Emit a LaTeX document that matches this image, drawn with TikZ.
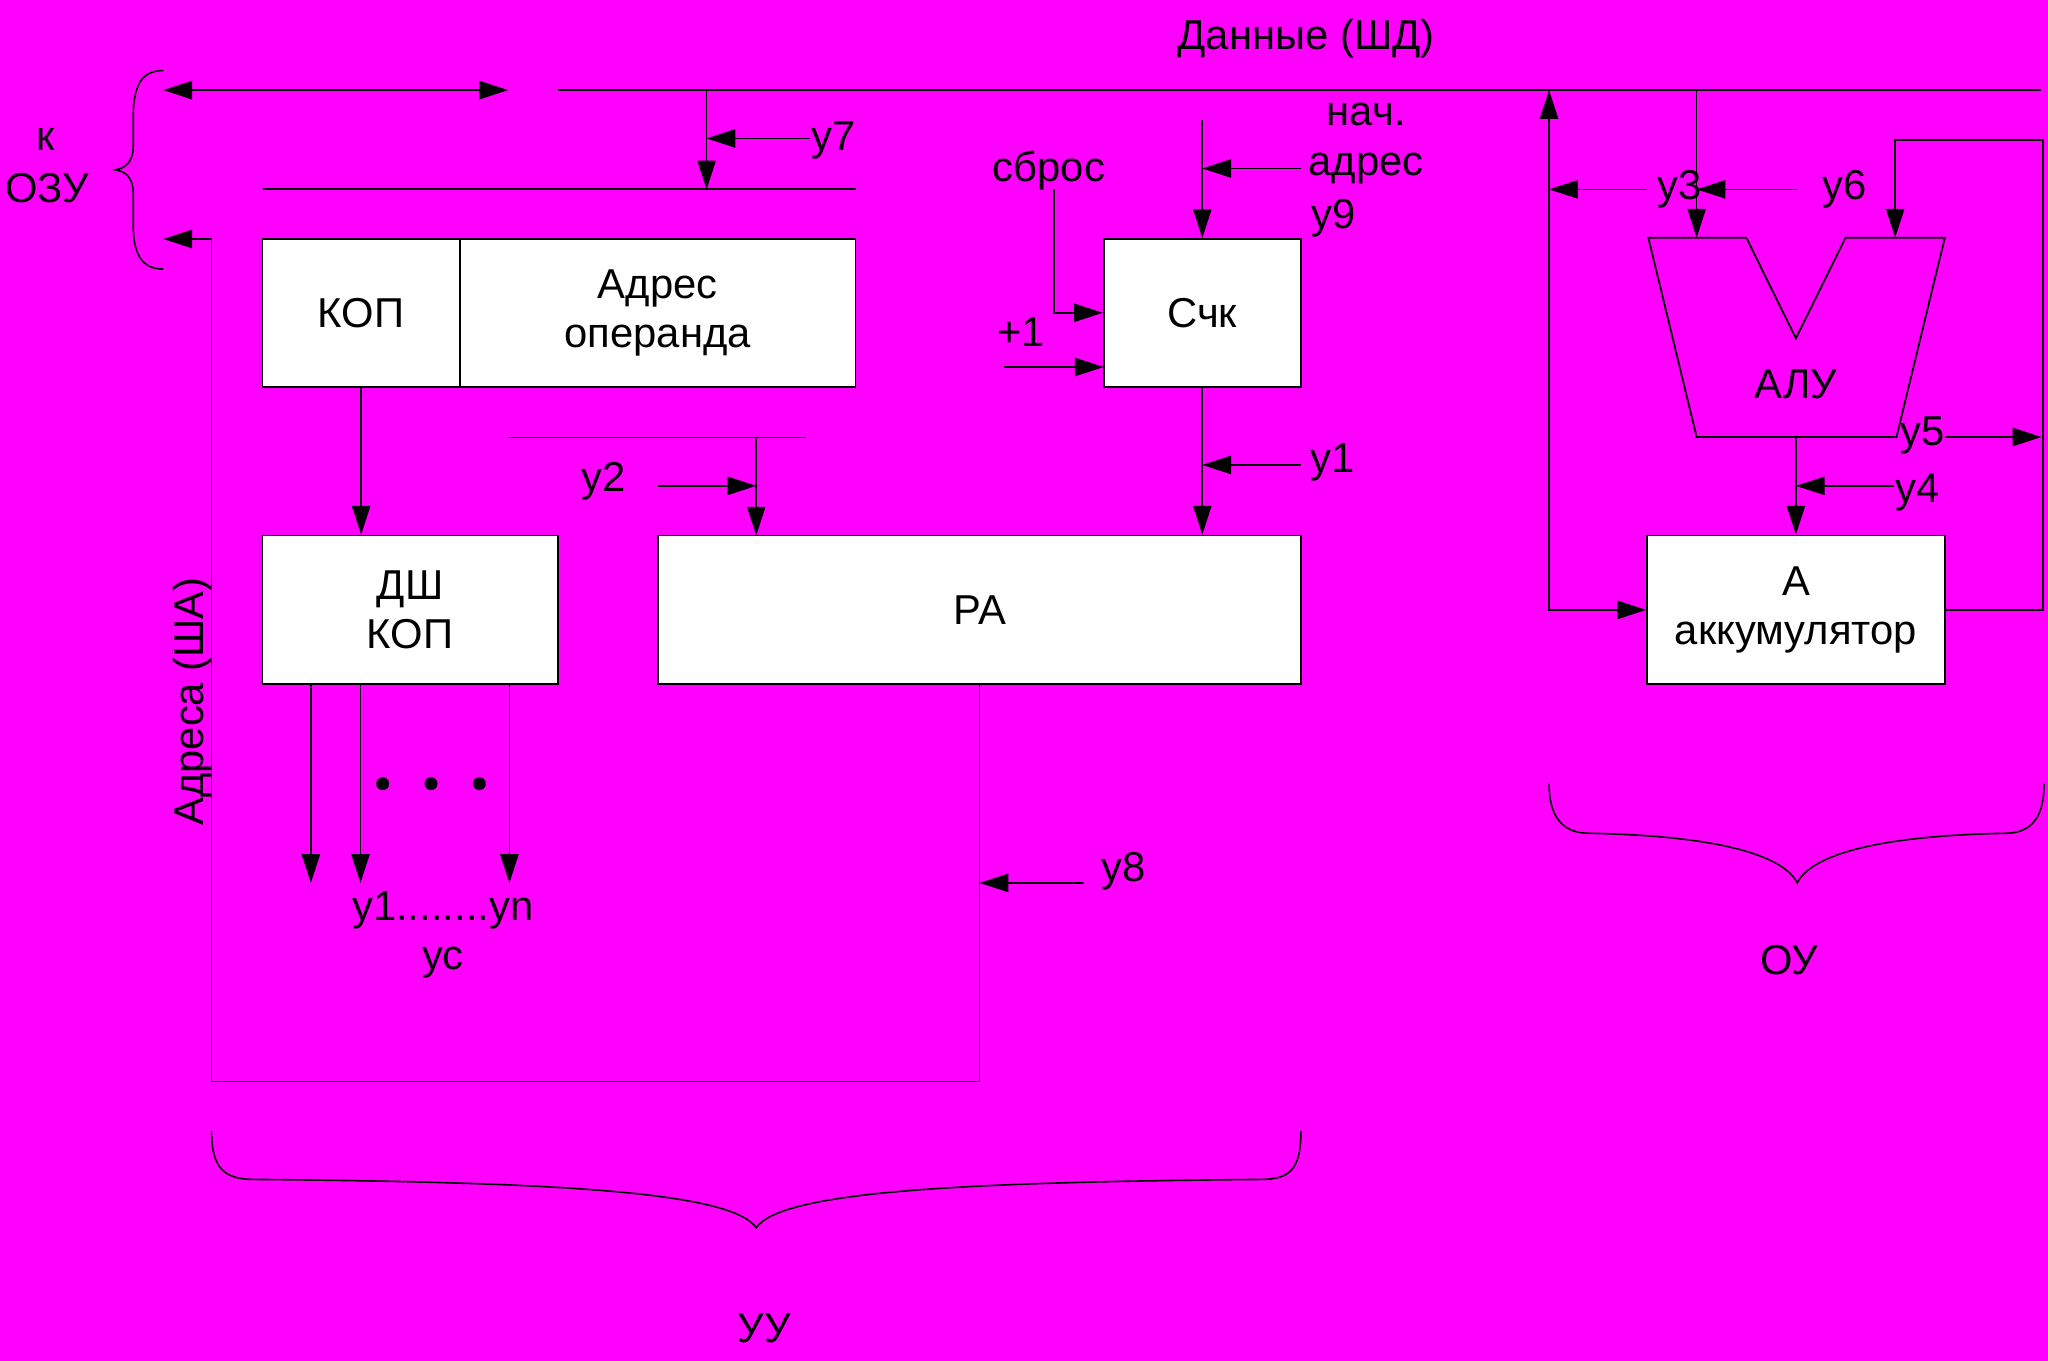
\documentclass[tikz,border=0pt]{standalone}
\usepackage{fontspec}
\setmainfont{Liberation Sans}
\usetikzlibrary{positioning,calc,arrows.meta}
\definecolor{colorBG}{RGB}{255,0,255}
\tikzset{
   every path/.style={>={Triangle[length=2.2mm,width=1.4mm]}},
   bus/.style={line width=0.4pt},
   sig/.style={->,line width=0.35pt},
   dbl/.style={<->,line width=0.4pt},
   brc/.style={line width=0.35pt},
   blk/.style={draw,fill=white,line width=0.4pt,inner sep=0pt,align=center},
   lbl/.style={inner sep=0pt,anchor=base,align=center},
}

\begin{document}
\begin{tikzpicture}[x=0.1mm,y=-0.1mm,font=\fontsize{9.1}{10.8}\selectfont]

      \fill[colorBG] (0,0) rectangle (1568,1042);

      % blocks of the control unit
      \node[blk, minimum width=15.1mm, minimum height=11.3mm] (kop) at (276.5,239.5) {КОП};
      \node[blk, minimum width=30.3mm, minimum height=11.3mm] (adr) at (503.5,239.5) {Адрес\\операнда};
      \node[blk, minimum width=15.1mm, minimum height=11.3mm] (sck) at (920.5,239.5) {Счк};
      \node[blk, minimum width=22.6mm, minimum height=11.4mm] (dsh) at (314,467) {ДШ\\КОП};
      \node[blk, minimum width=49.2mm, minimum height=11.4mm] (ra) at (750,467) {РА};

      % operating unit
      \node[blk, minimum width=22.8mm, minimum height=11.4mm] (acc) at (1375,467) {А\\аккумулятор};
      \draw[bus] (1262,182) -- (1337,182) -- (1375,259) -- (1413,182) -- (1489,182)
                 -- (1452,334.6) -- (1299,334.6) -- cycle;
      \node[lbl] (alu) at (1375,305) {АЛУ};

      % bus points
      \coordinate (busL) at (427,69);
      \coordinate (busR) at (1563,69);
      \coordinate (ozuT) at (125,69);
      \coordinate (ozuTR) at (389,69);
      \coordinate (ozuA) at (125,183);
      \coordinate (irL) at (201,145);
      \coordinate (irR) at (655,145);
      \coordinate (raL) at (389,335);
      \coordinate (raR) at (617,335);

      % labels
      \node[lbl] (shd) at (1000,38) {Данные (ШД)};
      \node[lbl] (k) at (35,115) {к};
      \node[lbl] (ozu) at (36,155) {ОЗУ};
      \node[lbl, rotate=90] (sha) at (156,537) {Адреса (ША)};
      \node[lbl] (y7) at (638,115) {у7};
      \node[lbl] (rst) at (803,139) {сброс};
      \node[lbl] (nach) at (1046,96) {нач.};
      \node[lbl] (nadr) at (1046,134) {адрес};
      \node[lbl] (y9) at (1021,175) {у9};
      \node[lbl] (inc) at (782,265) {+1};
      \node[lbl] (y1) at (1020,362) {у1};
      \node[lbl] (y2) at (462,376) {у2};
      \node[lbl] (y3) at (1286,153) {у3};
      \node[lbl] (y6) at (1412,153) {у6};
      \node[lbl] (y5) at (1472,341) {у5};
      \node[lbl] (y4) at (1468,385) {у4};
      \node[lbl] (y8) at (860,675) {у8};
      \node[lbl] (yn) at (339,705) {у1........уn};
      \node[lbl] (yc) at (339,742) {ус};
      \node[lbl] (ou) at (1370,746) {ОУ};
      \node[lbl] (uu) at (585,1028) {УУ};

      % data bus and memory
      \draw[bus] (busL) -- (busR);
      \draw[dbl] (ozuT) -- (ozuTR);
      \draw[bus] (irL) -- (irR);
      \draw[sig] (541,69) -- (541,145);
      \draw[sig] (620,106) -- (541,106);

      % counter
      \draw[sig] (920.5,92) -- (sck.north);
      \draw[sig] (996,129) -- (920.5,129);
      \draw[sig] (807,145) |- (sck.west);
      \draw[sig] (769,281) -- (845,281);
      \draw[sig] (sck.south) -- (sck.south |- ra.north);
      \draw[sig] (996,356) -- (920.5,356);

      % register of address
      \draw[sig] (kop.south) -- (kop.south |- dsh.north);
      \draw[bus] (raL) -- (raR);
      \draw[sig] (579,335) -- (579,410);
      \draw[sig] (504,372) -- (579,372);
      \foreach \x in {238,276,390}
         \draw[sig] (\x,524) -- (\x,676);
      \foreach \x in {293,330,367}
         \fill (\x,600) circle (5);

      % address bus
      \draw[sig] (ra.south) |- (162,828) -- (162,183) -- (ozuA);
      \draw[sig] (830,676) -- (750,676);

      % operating unit links
      \draw[dbl] (1186,69) |- (acc.west);
      \draw[sig] (1261,145) -- (1186,145);
      \draw[sig] (1299,69) -- (1299,182);
      \draw[sig] (1376,145) -- (1299,145);
      \draw[sig] (acc.east) -| (1564,107) -| (1451,182);
      \draw[sig] (1375,334.6) -- (acc.north);
      \draw[sig] (1450,372) -- (1375,372);
      \draw[sig] (1489,334.6) -- (1563,334.6);

      % braces
      \draw[brc] (125,54) .. controls (108,54) and (102,66) .. (102,90) -- (102,112)
                 .. controls (102,124) and (96,129) .. (88,130)
                 .. controls (96,131) and (102,136) .. (102,148) -- (102,172)
                 .. controls (102,194) and (108,206) .. (125,206);
      \draw[brc] (162,866) .. controls (162,895) and (172,903) .. (195,903)
                 .. controls (420,905) and (560,912) .. (579,940)
                 .. controls (598,912) and (738,905) .. (965,903)
                 .. controls (988,903) and (996,895) .. (996,866);
      \draw[brc] (1186,600) .. controls (1186,625) and (1196,638) .. (1217,638)
                 .. controls (1320,640) and (1366,656) .. (1376,676)
                 .. controls (1386,656) and (1432,640) .. (1535,638)
                 .. controls (1556,638) and (1565,625) .. (1565,600);

\end{tikzpicture}
\end{document}
